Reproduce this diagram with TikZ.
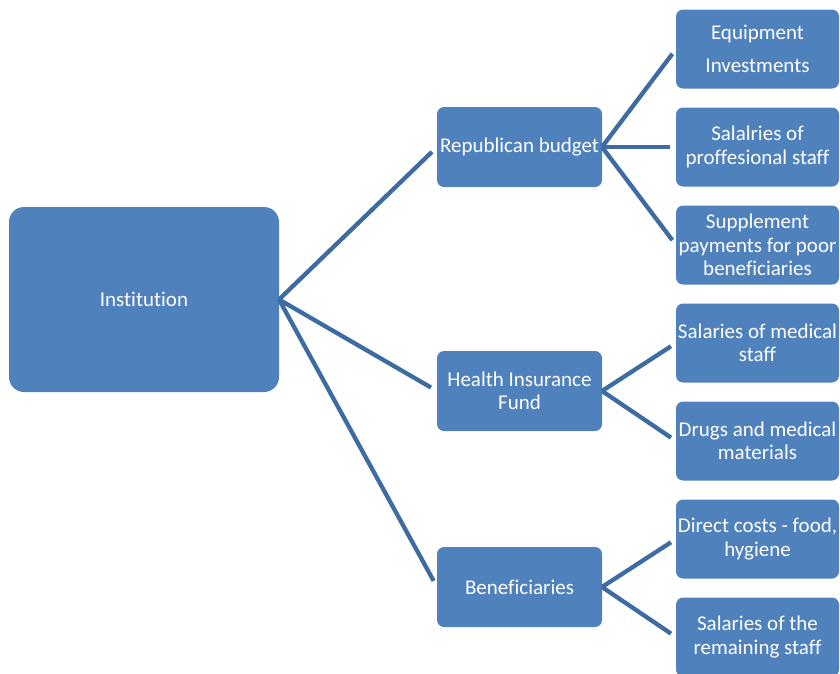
\documentclass[tikz,border=0pt]{standalone}
\usepackage{fontspec}
\setmainfont{Carlito}[Ligatures=NoCommon]
\usetikzlibrary{positioning}
\definecolor{boxfill}{HTML}{4F81BD}
\definecolor{linkcol}{HTML}{3D6BA2}

\begin{document}
\begin{tikzpicture}[x=1pt,y=-1pt,
  every node/.style={font=\fontsize{21}{23.5}\selectfont,text=white,align=center},
  box/.style={fill=boxfill,rounded corners=7pt,inner sep=0pt,outer sep=0pt},
  midbox/.style={box,minimum width=165pt,minimum height=80pt},
  leafbox/.style={box,minimum width=163pt,minimum height=79pt},
  link/.style={draw=linkcol,line width=4.3pt}]
  \useasboundingbox (0,0) rectangle (840,673);
  % root
  \node[box,rounded corners=15pt,minimum width=270pt,minimum height=185pt] (inst) at (144,299.5) {Institution};
  % sources
  \node[midbox] (rep) at (519.5,147) {Republican budget};
  \node[midbox,below=164pt of rep] (hif) {Health Insurance\\Fund};
  \node[midbox,below=116pt of hif] (ben) {Beneficiaries};
  % expenses
  \node[leafbox] (equip) at (757.5,49) {Equipment\\[9pt]Investments};
  \node[leafbox,below=19pt of equip] (prof) {Salalries of\\proffesional staff};
  \node[leafbox,below=19pt of prof] (supp) {Supplement\\payments for poor\\beneficiaries};
  \node[leafbox,below=19pt of supp] (medsal) {Salaries of medical\\staff};
  \node[leafbox,below=19pt of medsal] (drugs) {Drugs and medical\\materials};
  \node[leafbox,below=19pt of drugs] (direct) {Direct costs - food,\\hygiene};
  \node[leafbox,below=19pt of direct] (rest) {Salaries of the\\remaining staff};
  % connectors
  \draw[link,shorten >=7pt] (inst.east) -- (rep.west);
  \draw[link,shorten >=7pt] (inst.east) -- (hif.west);
  \draw[link,shorten >=7pt] (inst.east) -- (ben.west);
  \draw[link,shorten >=6pt] (rep.east) -- (equip.west);
  \draw[link,shorten >=6pt] (rep.east) -- (prof.west);
  \draw[link,shorten >=6pt] (rep.east) -- (supp.west);
  \draw[link,shorten >=6pt] (hif.east) -- (medsal.west);
  \draw[link,shorten >=6pt] (hif.east) -- (drugs.west);
  \draw[link,shorten >=6pt] (ben.east) -- (direct.west);
  \draw[link,shorten >=6pt] (ben.east) -- (rest.west);
\end{tikzpicture}
\end{document}
